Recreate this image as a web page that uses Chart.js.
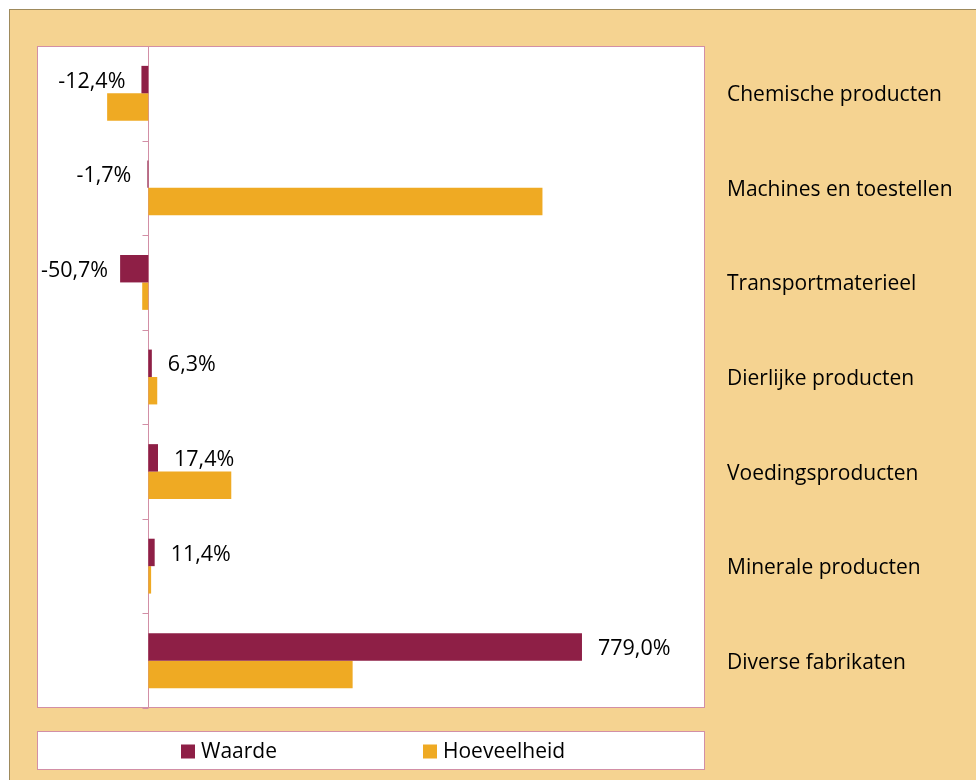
<!DOCTYPE html>
<html>
<head>
<meta charset="utf-8">
<script src="https://cdn.jsdelivr.net/npm/chart.js@4.4.1/dist/chart.umd.min.js"></script>
<style>
    body { margin: 0; background: #ffffff; }
    #frame {
        position: absolute; left: 9px; top: 9px; width: 967px; height: 771px;
        background: #f5d391; border-left: 1px solid #9e8a5c; border-top: 1px solid #9e8a5c;
    }
    #wrap { position: absolute; left: 0; top: 0; width: 966px; height: 770px; }
</style>
</head>
<body>
<div id="frame"><div id="wrap"><canvas id="chart"></canvas></div></div>
<script>
// ── Data ─────────────────────────────────────────────
const categories = [
    'Chemische producten',
    'Machines en toestellen',
    'Transportmaterieel',
    'Dierlijke producten',
    'Voedingsproducten',
    'Minerale producten',
    'Diverse fabrikaten'
];
const waarde = [-12.4, -1.7, -50.7, 6.3, 17.4, 11.4, 779.0];
const hoeveelheid = [-74, 708, -11, 16, 149, 5, 367];
const seriesNames = ['Waarde', 'Hoeveelheid'];
const seriesColors = ['#8e1f46', '#efaa23'];

const FONT = "'Open Sans', sans-serif";
const PINK = '#d28fa6';

const fmtPct = v => v.toFixed(1).replace('.', ',') + '%';

// ── Plot area: white box, zero line, small boundary ticks ──
const plotFrame = {
    id: 'plotFrame',
    beforeDatasetsDraw(chart) {
        const { ctx, chartArea: a, scales } = chart;
        ctx.save();
        ctx.fillStyle = '#ffffff';
        ctx.fillRect(a.left, a.top, a.right - a.left, a.bottom - a.top);
        ctx.strokeStyle = PINK;
        ctx.lineWidth = 1;
        ctx.strokeRect(a.left + 0.5, a.top + 0.5, a.right - a.left - 1, a.bottom - a.top - 1);
        const x0 = Math.round(scales.x.getPixelForValue(0)) + 0.5;
        ctx.beginPath();
        ctx.moveTo(x0, a.top);
        ctx.lineTo(x0, a.bottom);
        for (let i = 0; i <= categories.length; i++) {
            const y = Math.round(scales.y.getPixelForValue(i - 0.5)) + 0.5;
            ctx.moveTo(x0 - 6, y);
            ctx.lineTo(x0, y);
        }
        ctx.stroke();
        ctx.restore();
    }
};

// ── Value labels on the Waarde bars ──────────────────
// (negative labels are kept inside the plot box, like Excel does)
const valueLabels = {
    id: 'valueLabels',
    afterDatasetsDraw(chart) {
        const { ctx, chartArea: a } = chart;
        const meta = chart.getDatasetMeta(0);
        ctx.save();
        ctx.font = '21.5px ' + FONT;
        ctx.fillStyle = '#000000';
        ctx.textBaseline = 'middle';
        meta.data.forEach((bar, i) => {
            const v = waarde[i];
            const txt = fmtPct(v);
            if (v < 0) {
                const w = ctx.measureText(txt).width;
                const x = Math.max(bar.x - 16, a.left + 4 + w);
                ctx.textAlign = 'right';
                ctx.fillText(txt, x, bar.y + 2);
            } else {
                ctx.textAlign = 'left';
                ctx.fillText(txt, bar.x + 16, bar.y + 2);
            }
        });
        ctx.restore();
    }
};

// ── Legend box under the plot area ───────────────────
const legendBox = {
    id: 'legendBox',
    afterDraw(chart) {
        const { ctx, chartArea: a } = chart;
        const top = 721, bottom = 760;
        ctx.save();
        ctx.fillStyle = '#ffffff';
        ctx.fillRect(a.left, top, a.right - a.left, bottom - top);
        ctx.strokeStyle = PINK;
        ctx.strokeRect(a.left + 0.5, top + 0.5, a.right - a.left - 1, bottom - top - 1);
        ctx.font = '21px ' + FONT;
        ctx.textBaseline = 'middle';
        ctx.textAlign = 'left';
        const slot = 242;
        const lastW = 20 + ctx.measureText(seriesNames[seriesNames.length - 1]).width;
        const total = slot * (seriesNames.length - 1) + lastW;
        let x = Math.round((a.left + a.right) / 2 - total / 2) + 2;
        const cy = (top + bottom) / 2 + 1;
        seriesNames.forEach((name, i) => {
            ctx.fillStyle = seriesColors[i];
            ctx.fillRect(x, cy - 7, 14, 14);
            ctx.fillStyle = '#000000';
            ctx.fillText(name, x + 20, cy + 1);
            x += slot;
        });
        ctx.restore();
    }
};

new Chart(document.getElementById('chart'), {
    type: 'bar',
    data: {
        labels: categories,
        datasets: [
            { label: seriesNames[0], data: waarde, backgroundColor: seriesColors[0] },
            { label: seriesNames[1], data: hoeveelheid, backgroundColor: seriesColors[1] }
        ]
    },
    options: {
        indexAxis: 'y',
        responsive: true,
        maintainAspectRatio: false,
        animation: false,
        categoryPercentage: 0.58,
        barPercentage: 1.0,
        layout: { padding: { left: 27, top: 36, right: 0, bottom: 72 } },
        plugins: { legend: { display: false }, tooltip: { enabled: false } },
        scales: {
            x: { display: false, min: -200, max: 1000 },
            y: {
                position: 'right',
                grid: { display: false, drawTicks: false },
                border: { display: false },
                ticks: { padding: 22, labelOffset: 2, color: '#000000', font: { family: FONT, size: 21 } },
                afterFit: s => { s.width = 271; }
            }
        }
    },
    plugins: [plotFrame, valueLabels, legendBox]
});
</script>
</body>
</html>
